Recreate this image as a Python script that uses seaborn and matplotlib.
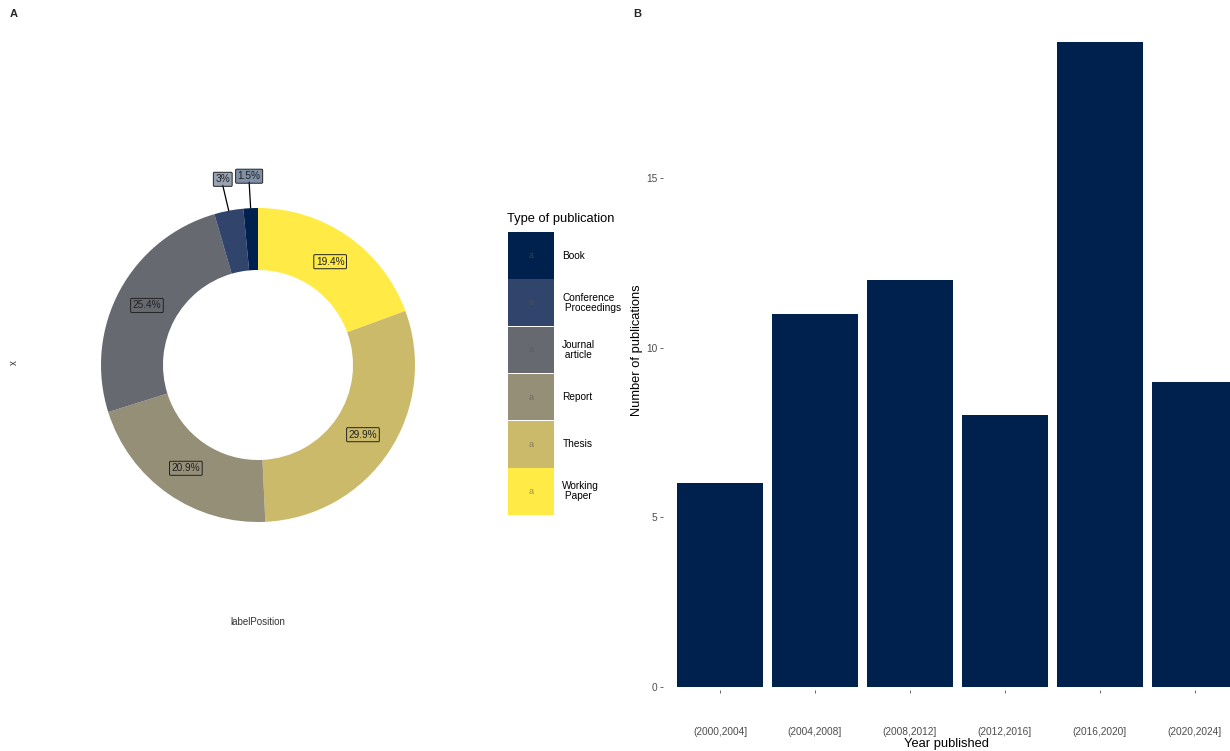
import numpy as np
import matplotlib
matplotlib.use("Agg")
import matplotlib.pyplot as plt
import seaborn as sns

# publication types (legend order) and counts
pub_types = ["Book", "Conference\n Proceedings", "Journal\n article", "Report", "Thesis", "Working\n Paper"]
pub_counts = [1, 2, 17, 14, 20, 13]
pub_colors = ["#00204D", "#31446B", "#666970", "#958F78", "#CBBA69", "#FFEA46"]

# publications per period
periods = ["(2000,2004]", "(2004,2008]", "(2008,2012]", "(2012,2016]", "(2016,2020]", "(2020,2024]"]
period_counts = [6, 11, 12, 8, 19, 9]
bar_color = "#00204D"

sns.set_theme(style="white")
plt.rcParams["font.family"] = ["Liberation Sans", "DejaVu Sans"]

W, H = 1230, 751
fig = plt.figure(figsize=(W / 100, H / 100), dpi=100)


def px_axes(x0, y0, x1, y1):
    # axes from pixel box (top-left origin)
    return fig.add_axes([x0 / W, 1 - y1 / H, (x1 - x0) / W, (y1 - y0) / H])


# ---- Panel A: donut ----
cx, cy, half = 258, 365, 210
ax_pie = px_axes(cx - half, cy - half, cx + half, cy + half)
R_out, ring = 157, 62
vals = pub_counts[::-1]
cols = pub_colors[::-1]
ax_pie.pie(vals, colors=cols, startangle=90, counterclock=False, radius=R_out,
           wedgeprops=dict(width=ring, linewidth=0))
ax_pie.set_xlim(-half, half)
ax_pie.set_ylim(-half, half)
ax_pie.set_aspect("equal")
ax_pie.set_axis_off()

total = sum(vals)
cum = 0
for v, c in zip(vals, cols):
    pct = round(v / total * 100, 1)
    mid = (cum + v / 2) / total
    cum += v
    ang = np.pi / 2 - 2 * np.pi * mid
    small = pct < 5
    r = 189 if small else R_out - ring / 2
    lx, ly = r * np.cos(ang), r * np.sin(ang)
    if small:
        ax_pie.plot([R_out * np.cos(ang), lx], [R_out * np.sin(ang), ly - 6],
                    color="black", lw=0.9, zorder=3)
    ax_pie.text(lx, ly, f"{pct:g}%", ha="center", va="center", fontsize=7.3,
                color="#222222", zorder=4,
                bbox=dict(boxstyle="round,pad=0.2,rounding_size=0.1",
                          fc=matplotlib.colors.to_rgba(c, 0.5), ec="#222222", lw=0.7))

fig.text(14 / W, 1 - 363 / H, "x", rotation=90, ha="center", va="center",
         fontsize=7, color="#333333")
fig.text(258 / W, 1 - 622 / H, "labelPosition", ha="center", va="center",
         fontsize=7, color="#333333")

# legend drawn as its own small axes
ax_leg = px_axes(508, 232, 554, 515)
ax_leg.barh(range(len(pub_types)), [1] * len(pub_types), height=0.99,
            color=pub_colors, left=0, linewidth=0)
ax_leg.set_xlim(0, 1)
ax_leg.set_ylim(len(pub_types) - 0.5, -0.5)
ax_leg.set_axis_off()
for i, (lab, c) in enumerate(zip(pub_types, pub_colors)):
    ax_leg.text(0.5, i, "a", ha="center", va="center", fontsize=6.5,
                color="#555555", alpha=0.6)
    ax_leg.text(1.18, i, lab, ha="left", va="center", fontsize=7.3,
                color="black", multialignment="left", linespacing=1.0)
fig.text(507 / W, 1 - 219 / H, "Type of publication", ha="left", va="center",
         fontsize=9.3, color="black")

# ---- Panel B: bars ----
ax_bar = px_axes(663, 10, 1230, 690)
sns.barplot(x=periods, y=period_counts, color=bar_color, saturation=1,
            width=0.9, linewidth=0, ax=ax_bar)
ax_bar.set_xlim(-0.6, 5.37)
ax_bar.set_ylim(-0.09, 19.95)
ax_bar.set_yticks([0, 5, 10, 15])
for s in ax_bar.spines.values():
    s.set_visible(False)
ax_bar.tick_params(axis="both", which="both", length=2.5, width=0.6,
                   color="#4D4D4D", labelsize=7.3, labelcolor="#4D4D4D",
                   bottom=True, left=True)
ax_bar.tick_params(axis="x", pad=24)
ax_bar.tick_params(axis="y", pad=1.5)
ax_bar.set_xlabel("Year published", fontsize=9.3, color="black", labelpad=1)
ax_bar.set_ylabel("Number of publications", fontsize=9.3, color="black", labelpad=2)

fig.text(14 / W, 1 - 14 / H, "A", ha="center", va="center", fontsize=8,
         fontweight="bold")
fig.text(637 / W, 1 - 14 / H, "B", ha="center", va="center", fontsize=8,
         fontweight="bold")

fig.savefig("out.png", dpi=100, facecolor="white")
